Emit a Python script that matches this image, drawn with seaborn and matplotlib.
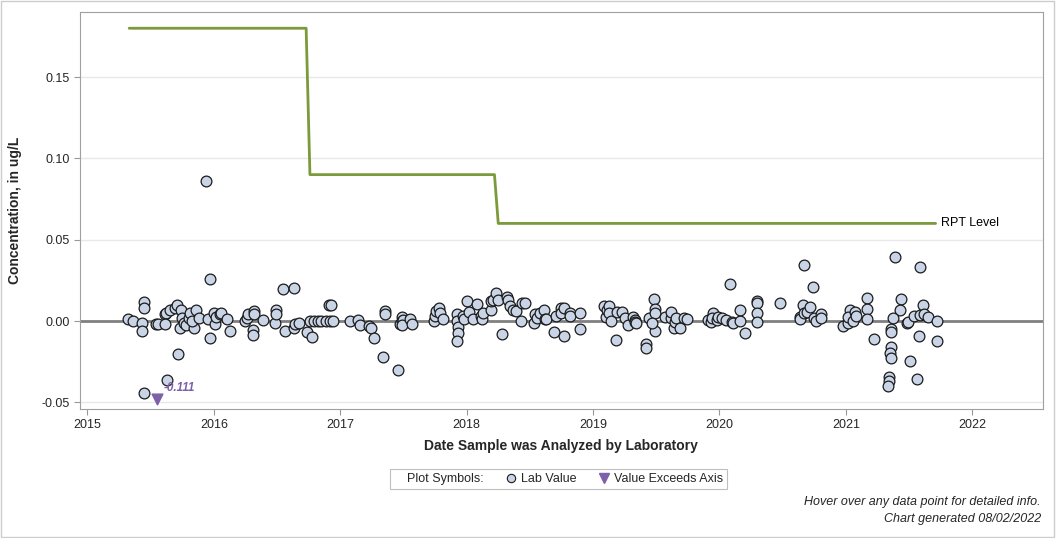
import matplotlib
matplotlib.use("Agg")
from matplotlib import pyplot as plt
from matplotlib.lines import Line2D
from matplotlib.patches import Rectangle
import seaborn as sns
import pandas as pd

# sample dates as decimal years, concentrations in ug/L
lab_dates = [
    2015.32, 2015.36, 2015.43, 2015.45, 2015.45, 2015.43, 2015.45, 2015.54, 2015.56, 2015.61,
    2015.62, 2015.61, 2015.65, 2015.63, 2015.69, 2015.71, 2015.72, 2015.73, 2015.74, 2015.75,
    2015.76, 2015.78, 2015.80, 2015.81, 2015.84, 2015.83, 2015.86, 2015.88, 2015.94, 2015.97,
    2015.97, 2015.95, 2016.00, 2016.01, 2016.02, 2016.05, 2016.06, 2016.10, 2016.13, 2016.25,
    2016.26, 2016.27, 2016.31, 2016.31, 2016.32, 2016.32, 2016.39,
    2016.48, 2016.49, 2016.49, 2016.55, 2016.63, 2016.56, 2016.63, 2016.64, 2016.67, 2016.74,
    2016.78, 2016.76, 2016.79, 2016.82, 2016.85, 2016.89, 2016.91, 2016.93, 2016.92, 2016.94,
    2017.08, 2017.14, 2017.16, 2017.23, 2017.24, 2017.27, 2017.35, 2017.35, 2017.34, 2017.46,
    2017.47, 2017.49, 2017.49,
    2017.50, 2017.49, 2017.55, 2017.57, 2017.74, 2017.75, 2017.76, 2017.78, 2017.79, 2017.81,
    2017.92, 2017.92, 2017.93, 2017.93, 2017.92, 2017.97, 2017.98, 2018.00, 2018.02, 2018.05,
    2018.08, 2018.11, 2018.12, 2018.13, 2018.19, 2018.19, 2018.21, 2018.23, 2018.25, 2018.28,
    2018.32, 2018.33, 2018.34, 2018.37, 2018.39, 2018.43, 2018.44, 2018.46, 2018.53, 2018.54,
    2018.56, 2018.58, 2018.61, 2018.62,
    2018.63, 2018.69, 2018.71, 2018.75, 2018.75, 2018.77, 2018.77, 2018.82, 2018.82, 2018.90,
    2018.90, 2019.09, 2019.10, 2019.11, 2019.13, 2019.13, 2019.14, 2019.18, 2019.19, 2019.23,
    2019.25, 2019.28, 2019.32, 2019.33, 2019.33, 2019.34, 2019.42, 2019.42, 2019.44, 2019.48,
    2019.49, 2019.49, 2019.49, 2019.47, 2019.57, 2019.62, 2019.62, 2019.64, 2019.65, 2019.66,
    2019.69, 2019.72, 2019.74,
    2019.91, 2019.93, 2019.95, 2019.94, 2019.98, 2019.99, 2020.02, 2020.05, 2020.08, 2020.10,
    2020.11, 2020.16, 2020.16, 2020.20, 2020.30, 2020.30, 2020.30, 2020.30, 2020.48, 2020.67,
    2020.64, 2020.64, 2020.66, 2020.67, 2020.69, 2020.72, 2020.74, 2020.75, 2020.76, 2020.80,
    2020.80,
    2020.98, 2021.02, 2021.03, 2021.02, 2021.06, 2021.07, 2021.08, 2021.17, 2021.17, 2021.17,
    2021.22, 2021.39, 2021.44, 2021.43, 2021.37, 2021.36, 2021.36, 2021.36, 2021.35, 2021.36,
    2021.34, 2021.34, 2021.33, 2021.48, 2021.49, 2021.51, 2021.54, 2021.56, 2021.58, 2021.59,
    2021.59, 2021.61, 2021.62, 2021.65, 2021.72, 2021.72,
]
lab_values = [
    0.001, 0.000, -0.001, 0.0115, 0.008, -0.006, -0.044, -0.002, -0.002, 0.004,
    0.005, -0.002, 0.007, -0.036, 0.008, 0.010, -0.020, -0.0045, 0.007, 0.002,
    -0.001, -0.0025, 0.002, 0.005, -0.0045, 0.000, 0.007, 0.002, 0.086, 0.026,
    -0.0105, 0.001, 0.005, -0.002, 0.0026, 0.004, 0.005, 0.001, -0.006, 0.000,
    0.002, 0.004, -0.0055, -0.0085, 0.006, 0.004, 0.0006,
    -0.001, 0.007, 0.004, 0.0195, 0.020, -0.006, -0.004, -0.002, -0.001, -0.007,
    -0.010, 0.000, 0.000, 0.000, 0.000, 0.000, 0.0098, 0.0098, 0.000, 0.000,
    0.000, 0.0006, -0.0025, -0.003, -0.004, -0.0105, 0.006, 0.004, -0.022, -0.030,
    -0.002, 0.0026, 0.000,
    0.0006, -0.0025, 0.001, -0.002, 0.000, 0.003, 0.006, 0.008, 0.005, 0.001,
    0.004, 0.000, -0.0035, -0.0075, -0.012, 0.003, 0.001, 0.012, 0.0057, 0.001,
    0.0105, 0.003, 0.001, 0.005, 0.007, 0.012, 0.013, 0.017, 0.013, -0.008,
    0.015, 0.013, 0.009, 0.007, 0.006, 0.000, 0.011, 0.011, -0.0014, 0.004,
    0.002, 0.005, 0.007, 0.001,
    0.001, -0.0066, 0.003, 0.008, 0.005, 0.008, -0.009, 0.005, 0.003, 0.005,
    -0.005, 0.009, 0.0026, 0.007, 0.009, 0.005, 0.0002, -0.0117, 0.0057, 0.0057,
    0.0017, -0.0025, 0.0023, 0.0006, -0.0004, -0.001, -0.0143, -0.0168, 0.0017, 0.0133,
    0.0072, 0.0051, -0.006, -0.0014, 0.0023, 0.0017, 0.0057, -0.0045, -0.0004, 0.0017,
    -0.0045, 0.0017, 0.001,
    0.0006, -0.0004, 0.0051, 0.0017, 0.0006, 0.0023, 0.0017, 0.0006, 0.0228, -0.0004,
    -0.0014, 0.0002, 0.0068, -0.0072, 0.0125, 0.0109, 0.0047, -0.0004, 0.0109, 0.0344,
    0.0026, 0.001, 0.0098, 0.0047, 0.0057, 0.0084, 0.0211, 0.0017, 0.0002, 0.0043,
    0.0017,
    -0.0031, -0.0014, 0.0068, 0.0026, 0.000, 0.0057, 0.0031, 0.014, 0.0072, 0.0012,
    -0.0111, 0.0392, 0.0135, 0.0068, 0.0017, -0.0051, -0.007, -0.0162, -0.0199, -0.0229,
    -0.0343, -0.0367, -0.040, -0.001, -0.0004, -0.0246, 0.0031, -0.0357, -0.0092, 0.033,
    0.0037, 0.0098, 0.0043, 0.0023, -0.0121, 0.000,
]

exceed_dates = [2015.55]
exceed_values = [-0.111]

rpt_dates = [2015.33, 2016.73, 2016.76, 2018.22, 2018.25, 2021.71]
rpt_values = [0.18, 0.18, 0.09, 0.09, 0.06, 0.06]

year_ticks = [2015, 2016, 2017, 2018, 2019, 2020, 2021, 2022]
conc_ticks = [-0.05, 0.00, 0.05, 0.10, 0.15]

YMIN, YMAX = -0.0541, 0.1897
XMIN, XMAX = 2014.937, 2022.56

sns.set_style("white")
plt.rcParams["font.family"] = ["Liberation Sans", "DejaVu Sans"]

fig = plt.figure(figsize=(10.56, 5.38), dpi=100)
ax = fig.add_axes([0.0753, 0.2398, 0.9124, 0.737])

lab = pd.DataFrame({"date": lab_dates, "conc": lab_values})
rpt = pd.DataFrame({"date": rpt_dates, "conc": rpt_values})

for t in conc_ticks:
    if t != 0:
        ax.axhline(t, color="#e8e8e8", lw=1, zorder=0)
ax.axhline(0, color="#808080", lw=2, zorder=1)

sns.lineplot(data=rpt, x="date", y="conc", ax=ax, color="#7a9a3c", lw=2,
             sort=False, estimator=None, zorder=2)
ax.text(rpt_dates[-1] + 0.04, rpt_values[-1], "RPT Level", fontsize=9,
        va="center", ha="left", color="black")

sns.scatterplot(data=lab, x="date", y="conc", ax=ax, s=60, color="#c9d5e6",
                edgecolor="#1a1a1a", linewidth=0.9, zorder=3)

# values below the axis floor are drawn at the floor with their value written
floor = YMIN + 0.006
for d, v in zip(exceed_dates, exceed_values):
    ax.scatter([d], [floor], marker="v", s=60, color="#7d60a8", zorder=4)
    ax.text(d + 0.05, floor + 0.007, f"{v:.3f}", color="#7d60a8", fontsize=8.5,
            fontweight="bold", fontstyle="italic", va="center", ha="left")

ax.set_xlim(XMIN, XMAX)
ax.set_ylim(YMIN, YMAX)
ax.set_xticks(year_ticks)
ax.set_xticklabels([str(y) for y in year_ticks])
ax.set_yticks(conc_ticks)
ax.set_yticklabels([f"{t:.2f}" for t in conc_ticks])
ax.tick_params(axis="both", direction="out", length=4, width=0.8, color="#999999",
               labelsize=9, bottom=True, left=True, pad=3)
for sp in ax.spines.values():
    sp.set_color("#a0a0a0")
    sp.set_linewidth(0.8)

ax.set_xlabel("Date Sample was Analyzed by Laboratory", fontsize=10, fontweight="bold",
              labelpad=6)
ax.set_ylabel("Concentration, in ug/L", fontsize=10, fontweight="bold")
ax.yaxis.set_label_coords(-0.0597, 0.5)

handles = [
    Line2D([], [], linestyle="none", marker=None),
    Line2D([], [], linestyle="none", marker="o", markersize=6, markerfacecolor="#c9d5e6",
           markeredgecolor="#1a1a1a", markeredgewidth=0.8),
    Line2D([], [], linestyle="none", marker="v", markersize=7, color="#7d60a8"),
]
labels = ["Plot Symbols:", "Lab Value", "Value Exceeds Axis"]
leg = fig.legend(handles, labels, loc="center", bbox_to_anchor=(0.529, 0.1097), ncol=3,
                 frameon=True, fancybox=False, fontsize=9, handlelength=0.4,
                 handletextpad=0.6, columnspacing=2.0, borderpad=0.3)
leg.get_frame().set_edgecolor("#b0b0b0")
leg.get_frame().set_linewidth(0.8)

fig.text(0.9858, 0.067, "Hover over any data point for detailed info.", ha="right",
         va="center", fontsize=9, fontstyle="italic")
fig.text(0.9858, 0.035, "Chart generated 08/02/2022", ha="right", va="center",
         fontsize=9, fontstyle="italic")

fig.patches.append(Rectangle((0.0005, 0.001), 0.998, 0.997, transform=fig.transFigure,
                             fill=False, edgecolor="#cccccc", lw=1))

fig.savefig("out.png", dpi=100)
plt.close(fig)
